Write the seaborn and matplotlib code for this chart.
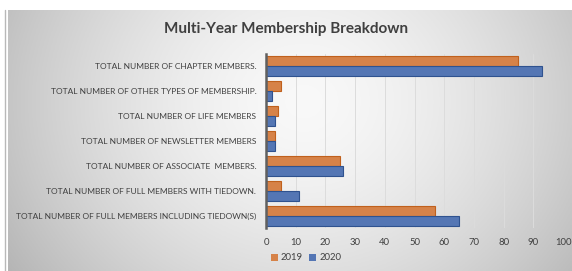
import numpy as np
import pandas as pd
import matplotlib.pyplot as plt
import seaborn as sns

categories = [
    'TOTAL NUMBER OF CHAPTER MEMBERS.',
    'TOTAL NUMBER OF OTHER TYPES OF MEMBERSHIP.',
    'TOTAL NUMBER OF LIFE MEMBERS',
    'TOTAL NUMBER OF NEWSLETTER MEMBERS',
    'TOTAL NUMBER OF ASSOCIATE  MEMBERS.',
    'TOTAL NUMBER OF FULL MEMBERS WITH TIEDOWN.',
    'TOTAL NUMBER OF FULL MEMBERS INCLUDING TIEDOWN(S)',
]
values_2019 = [85, 5, 4, 3, 25, 5, 57]
values_2020 = [93, 2, 3, 3, 26, 11, 65]
years = ['2019', '2020']
xticks = [0, 10, 20, 30, 40, 50, 60, 70, 80, 90, 100]

df = pd.DataFrame({
    'category': categories * 2,
    'value': values_2019 + values_2020,
    'year': ['2019'] * len(categories) + ['2020'] * len(categories),
})

sns.set_style('white')
plt.rcParams['font.family'] = ['Lato', 'DejaVu Sans']

fig = plt.figure(figsize=(5.72, 2.71), dpi=100)
fig.patch.set_facecolor('white')

# background panel with a soft gray gradient (light centre, grey edges)
bg = fig.add_axes([8 / 572, 0, 1 - 8 / 572, 1 - 10 / 271])
xx, yy = np.meshgrid(np.linspace(-1, 1, 300), np.linspace(1, -1, 150))
r = np.sqrt(((xx - 0.05) * 0.95) ** 2 + ((yy - 0.3) * 0.5) ** 2)
shade = np.clip(0.975 - 0.2 * r ** 1.6, 0, 1)
bg.imshow(np.dstack([shade] * 3), aspect='auto', extent=[0, 1, 0, 1])
bg.set_axis_off()
fig.add_artist(plt.Line2D([5 / 572, 5 / 572], [0, 1 - 10 / 271], color='#b8b8b8', lw=1))

ax = fig.add_axes([266 / 572, 1 - 228 / 271, (563 - 266) / 572, (228 - 54) / 271])
ax.patch.set_alpha(0)
sns.barplot(data=df, x='value', y='category', hue='year', hue_order=years,
            palette=['#ED7D31', '#4472C4'], orient='h', width=0.8, ax=ax,
            edgecolor=None, linewidth=0)
for bar, ec in zip(ax.patches, ['#c0601c'] * 7 + ['#2f528f'] * 7):
    bar.set_edgecolor(ec)
    bar.set_linewidth(0.8)

ax.set_xlim(0, 100)
ax.set_xticks(xticks)
ax.tick_params(axis='x', labelsize=6.8, colors='#404040', length=0, pad=7)
ax.tick_params(axis='y', labelsize=6.0, colors='#404040', length=0, pad=7)
ax.set_xlabel('')
ax.set_ylabel('')
ax.grid(axis='x', color='#dcdcdc', lw=0.7)
ax.set_axisbelow(True)
for s in ['top', 'right', 'bottom']:
    ax.spines[s].set_visible(False)
ax.spines['left'].set_color('#606060')
ax.spines['left'].set_linewidth(1.8)

ax.legend(loc='lower left', bbox_to_anchor=(262 / 572, 0.0), bbox_transform=fig.transFigure,
          ncol=2, frameon=False, fontsize=6.8, handlelength=0.8, handleheight=0.8,
          handletextpad=0.3, columnspacing=0.6, labelcolor='#404040')

fig.text(0.5, 1 - 29 / 271, 'Multi-Year Membership Breakdown', ha='center', va='center',
         fontsize=11, fontweight='bold', color='#404040')

fig.savefig('out.png', dpi=100)
